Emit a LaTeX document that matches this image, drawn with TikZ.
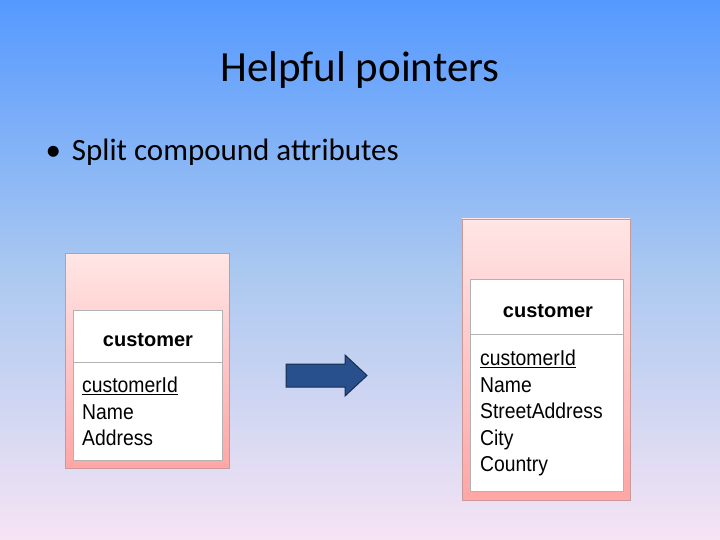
\documentclass[tikz,border=0pt]{standalone}
\usepackage{fontspec}
\setmainfont{Carlito}
\newfontfamily\boxfont{Liberation Sans}
\begin{document}
\begin{tikzpicture}[x=1pt,y=-1pt,
  outerbox/.style={draw=red!45!black!40, top color=red!10, bottom color=red!35},
  innerbox/.style={draw=gray!60, fill=white},
  hdr/.style={font=\boxfont\bfseries\fontsize{20}{22}\selectfont, inner sep=0pt},
  attr/.style={font=\boxfont\fontsize{21.5}{26.5}\selectfont, align=left, inner sep=0pt, anchor=north west, xscale=0.9}]
\useasboundingbox (0,0) rectangle (720,540);
\shade[top color={rgb,255:red,85;green,153;blue,255}, bottom color={rgb,255:red,246;green,228;blue,244}, middle color={rgb,255:red,170;green,200;blue,240}] (0,0) rectangle (720,540);
\node (title) at (360,70) {\fontsize{43}{46}\selectfont Helpful pointers};
\node[anchor=west] (bullet) at (42,152) {\fontsize{31}{34}\selectfont \textbullet\hspace{11pt}Split compound attributes};
% left entity
\draw[outerbox] (65,253) rectangle (229,468);
\draw[innerbox] (73,310) rectangle (222,460);
\draw[gray!60] (73,362) -- (222,362);
\node[hdr] (lh) at (148,340) {customer};
\node[attr] (la) at (82,377) {\underline{customerId}\\Name\\Address};
% arrow
\draw[draw={rgb,255:red,25;green,45;blue,80}, fill={rgb,255:red,40;green,80;blue,140}, line width=1pt]
  (286,364) -- (345,364) -- (345,355) -- (367,375.5) -- (345,396) -- (345,387) -- (286,387) -- cycle;
% right entity
\draw[outerbox] (462,219) rectangle (630,500);
\draw[innerbox] (470,279) rectangle (623,491);
\draw[gray!60] (470,334) -- (623,334);
\node[hdr] (rh) at (548,311) {customer};
\node[attr] (ra) at (480,350) {\underline{customerId}\\Name\\StreetAddress\\City\\Country};
\end{tikzpicture}
\end{document}
